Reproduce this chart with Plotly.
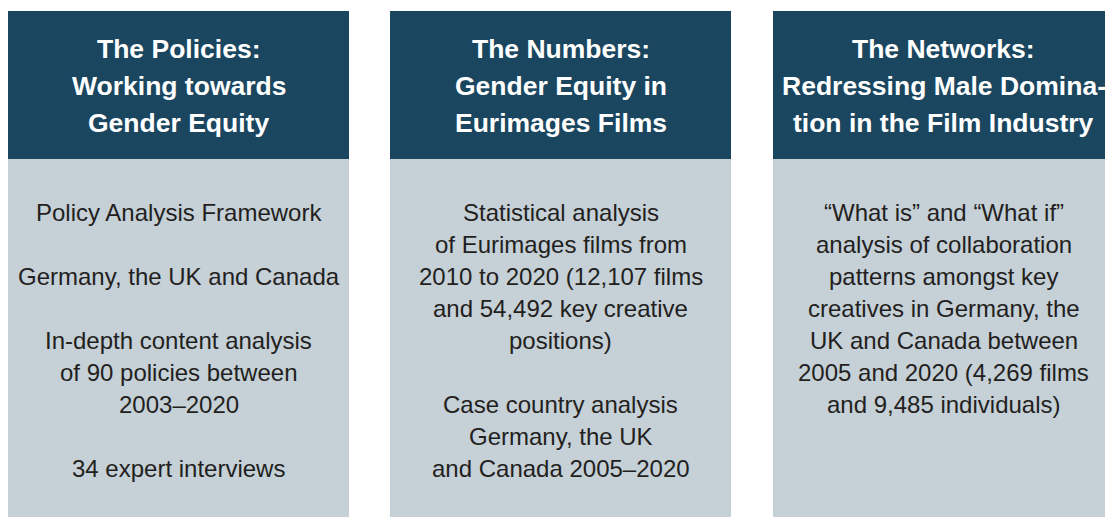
import plotly.graph_objects as go

# ---- content ----
panel_titles = [
    ["The Policies:", "Working towards", "Gender Equity"],
    ["The Numbers:", "Gender Equity in", "Eurimages Films"],
    ["The Networks:", "Redressing Male Domina-", "tion in the Film Industry"],
]
panel_body = [
    ["Policy Analysis Framework", "", "Germany, the UK and Canada", "",
     "In-depth content analysis", "of 90 policies between", "2003\u20132020", "",
     "34 expert interviews"],
    ["Statistical analysis", "of Eurimages films from", "2010 to 2020 (12,107 films",
     "and 54,492 key creative", "positions)", "",
     "Case country analysis", "Germany, the UK", "and Canada 2005\u20132020"],
    ["\u201cWhat is\u201d and \u201cWhat if\u201d", "analysis of collaboration",
     "patterns amongst key", "creatives in Germany, the", "UK and Canada between",
     "2005 and 2020 (4,269 films", "and 9,485 individuals)"],
]

# ---- layout / style ----
W, H = 1105, 517
panel_x0 = [8, 390, 773]
panel_w = 341
top, header_bottom = 11, 159
header_col = "#1B4660"
body_col = "#C5D0D7"
text_col = "#231F20"
font_fam = "Liberation Sans"

fig = go.Figure()
shapes = []
annotations = []
for i in range(3):
    x0 = panel_x0[i]
    x1 = x0 + panel_w
    cx = (x0 + x1) / 2
    shapes.append(dict(type="rect", xref="x", yref="y", x0=x0, x1=x1, y0=top, y1=header_bottom,
                       fillcolor=header_col, line=dict(width=0), layer="below"))
    shapes.append(dict(type="rect", xref="x", yref="y", x0=x0, x1=x1, y0=header_bottom, y1=H + 5,
                       fillcolor=body_col, line=dict(width=0), layer="below"))
    for j, line in enumerate(panel_titles[i]):
        annotations.append(dict(x=cx, y=49 + 37 * j, xref="x", yref="y", text="<b>" + line + "</b>",
                                showarrow=False, xanchor="center", yanchor="middle",
                                font=dict(family=font_fam, size=26.5, color="white")))
    for j, line in enumerate(panel_body[i]):
        if not line:
            continue
        annotations.append(dict(x=cx, y=212 + 32 * j, xref="x", yref="y", text=line,
                                showarrow=False, xanchor="center", yanchor="middle",
                                font=dict(family=font_fam, size=24, color=text_col)))

fig.update_layout(
    width=W, height=H,
    margin=dict(l=0, r=0, t=0, b=0),
    paper_bgcolor="white", plot_bgcolor="white",
    xaxis=dict(range=[0, W], visible=False, fixedrange=True),
    yaxis=dict(range=[H, 0], visible=False, fixedrange=True),
    shapes=shapes, annotations=annotations, showlegend=False,
)
fig.write_html("out.html", config={"displayModeBar": False},
               post_script="document.body.style.margin='0';document.body.style.overflow='hidden';")
